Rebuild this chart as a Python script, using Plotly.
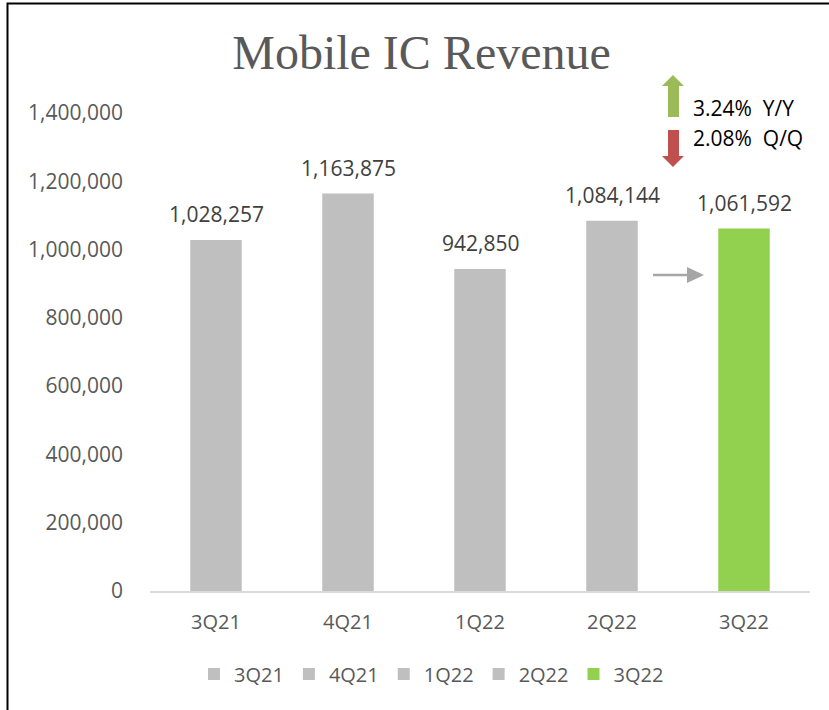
import plotly.graph_objects as go

categories = ["3Q21", "4Q21", "1Q22", "2Q22", "3Q22"]
revenue = [1028257, 1163875, 942850, 1084144, 1061592]
bar_colors = ["#BFBFBF", "#BFBFBF", "#BFBFBF", "#BFBFBF", "#92D050"]
yoy_text = "3.24%  Y/Y"
qoq_text = "2.08%  Q/Q"
y_ticks = [0, 200000, 400000, 600000, 800000, 1000000, 1200000, 1400000]

# the page body margin is removed below, so window px == figure px
W, H = 829, 710
PL, PR, PT, PB = 150, 810, 113, 591   # plot area in window px
L, T = PL, PT
R = W - PR
B = H - PB
PW, PH = PR - PL, PB - PT


def px(x):
    return (x - PL) / PW


def py(y):
    return (PB - y) / PH


SANS = "Open Sans"
fig = go.Figure()
for c, v, col in zip(categories, revenue, bar_colors):
    fig.add_trace(go.Bar(x=[c], y=[v], name=c, marker=dict(color=col, line=dict(width=0)),
                         hoverinfo="x+y"))

annotations = []
for c, v in zip(categories, revenue):
    annotations.append(dict(x=c, y=v, xref="x", yref="y", text=f"{v:,}", showarrow=False,
                            yanchor="bottom", yshift=10,
                            font=dict(family=SANS, size=21, color="#404040")))

annotations.append(dict(x=px(691), y=py(108), xref="paper", yref="paper", text=yoy_text,
                        showarrow=False, xanchor="left", yanchor="middle",
                        font=dict(family=SANS, size=21, color="#000000")))
annotations.append(dict(x=px(691), y=py(138), xref="paper", yref="paper", text=qoq_text,
                        showarrow=False, xanchor="left", yanchor="middle",
                        font=dict(family=SANS, size=21, color="#000000")))


def path(points):
    s = "M " + " L ".join(f"{px(a):.5f},{py(b):.5f}" for a, b in points) + " Z"
    return s


shapes = [
    dict(type="rect", xref="paper", yref="paper", x0=px(7.5), y0=py(3.5), x1=px(850), y1=py(730),
         line=dict(color="#000000", width=2), fillcolor="rgba(0,0,0,0)", layer="above"),
    dict(type="path", xref="paper", yref="paper",
         path=path([(668, 117), (668, 86), (662, 86), (673, 75), (684, 86), (679, 86), (679, 117)]),
         fillcolor="#9BBB59", line=dict(width=0)),
    dict(type="path", xref="paper", yref="paper",
         path=path([(668, 130), (679, 130), (679, 156), (684, 156), (673, 167), (662, 156), (668, 156)]),
         fillcolor="#C0504D", line=dict(width=0)),
    dict(type="line", xref="paper", yref="paper", x0=px(653), y0=py(275), x1=px(690), y1=py(275),
         line=dict(color="#A6A6A6", width=2.5)),
    dict(type="path", xref="paper", yref="paper",
         path=path([(687, 267), (704, 275), (687, 283)]),
         fillcolor="#A6A6A6", line=dict(width=0)),
]

fig.update_layout(
    width=W, height=H,
    margin=dict(l=L, r=R, t=T, b=B),
    paper_bgcolor="white", plot_bgcolor="white",
    barmode="overlay", bargap=0.61,
    title=dict(text="Mobile IC Revenue", x=px(421.5), xref="paper", xanchor="center",
               y=1 - 52 / H, yref="container", yanchor="middle",
               font=dict(family="Liberation Serif", size=48, color="#595959")),
    xaxis=dict(categoryorder="array", categoryarray=categories, showgrid=False,
               showline=True, linecolor="#D9D9D9", linewidth=1.5, ticks="",
               tickfont=dict(family=SANS, size=20, color="#595959"), ticklabelstandoff=12),
    yaxis=dict(range=[0, 1400000], tickvals=y_ticks, tickformat=",d", showgrid=False,
               zeroline=False, showline=False, ticks="",
               tickfont=dict(family=SANS, size=21, color="#595959"), ticklabelstandoff=26),
    legend=dict(orientation="h", x=px(194), xanchor="left", y=py(674), yanchor="middle",
                font=dict(family=SANS, size=20, color="#595959"), traceorder="normal"),
    annotations=annotations,
    shapes=shapes,
)

fig.write_html("out.html", config={"displayModeBar": False},
               post_script="document.body.style.margin='0';document.body.style.overflow='hidden';")
